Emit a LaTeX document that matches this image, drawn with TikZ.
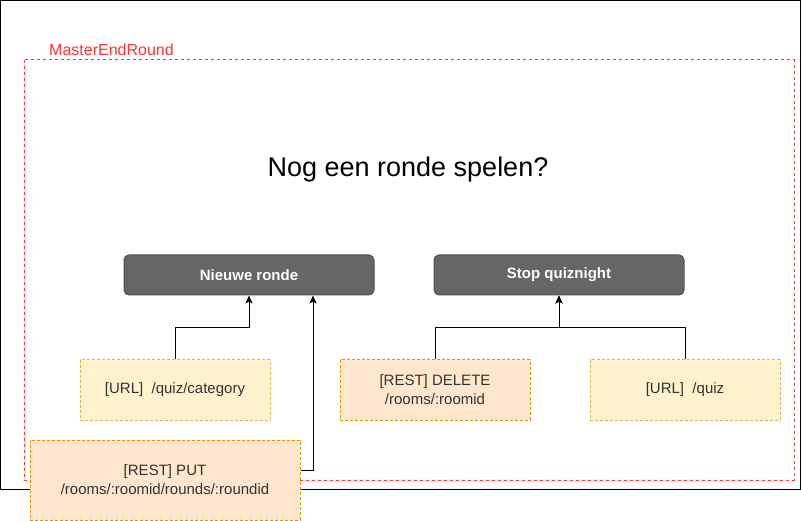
\documentclass[tikz,border=0pt]{standalone}
\usepackage{fontspec}
\setmainfont{Liberation Sans}
\usetikzlibrary{arrows.meta}
\definecolor{redc}{HTML}{FF3333}
\definecolor{grayfill}{HTML}{666666}
\definecolor{graydraw}{HTML}{4D4D4D}
\definecolor{yelfill}{HTML}{FFF2CC}
\definecolor{yeldraw}{HTML}{D6B656}
\definecolor{orfill}{HTML}{FFE6CC}
\definecolor{ordraw}{HTML}{D79B00}
\definecolor{txt}{HTML}{333333}
\tikzset{
  btn/.style={draw=graydraw, fill=grayfill, rounded corners=5pt, line width=1pt,
    minimum width=250pt, minimum height=40pt, inner sep=0pt, text=white,
    font=\fontsize{15}{18}\selectfont\bfseries},
  ybox/.style={draw=yeldraw, fill=yelfill, dash pattern=on 3pt off 2pt, line width=1pt,
    minimum width=190pt, minimum height=60pt, inner sep=0pt, text=txt, align=center,
    font=\fontsize{15}{19}\selectfont},
  obox/.style={ybox, draw=ordraw, fill=orfill},
  conn/.style={draw=black, line width=1pt},
  arr/.style={conn, -{Stealth[length=8pt,width=7pt,inset=2pt]}},
}
\begin{document}
\begin{tikzpicture}[x=1pt,y=-1pt]
\useasboundingbox (0,0) rectangle (801,521);
\fill[white] (0,0) rectangle (801,521);
% outer frame
\draw[line width=1pt] (0.5,0.5) rectangle (800,489.5);
% red group frame
\draw[redc, line width=1pt, dash pattern=on 3pt off 3pt] (24,60) rectangle (794,480);
\node[anchor=base west, inner sep=0pt, text=redc, font=\fontsize{16}{18}\selectfont] (lbl) at (49,56) {MasterEndRound};
\node[font=\fontsize{27}{30}\selectfont, inner sep=0pt] (title) at (408,170) {Nog een ronde spelen?};
% buttons
\node[btn] (nr) at (249,275) {Nieuwe ronde};
\node[btn] (stop) at (559,275) {Stop quiznight};
% boxes
\node[ybox] (cat) at (175,390) {[URL]\ \ /quiz/category};
\node[obox] (del) at (435,390) {[REST] DELETE\\/rooms/:roomid};
\node[ybox] (qz) at (685,390) {[URL]\ \ /quiz};
\node[obox, minimum width=270pt, minimum height=80pt] (put) at (165,480) {[REST] PUT\\/rooms/:roomid/rounds/:roundid};
% connectors
\draw[arr] (cat.north) -- ++(0,-32) -| (nr.south);
\draw[arr] ([yshift=10pt]put.east) -| ([xshift=64pt]nr.south);
\draw[arr] (del.north) -- ++(0,-32) -| (stop.south);
\draw[arr] (qz.north) -- ++(0,-32) -| (stop.south);
\end{tikzpicture}
\end{document}
